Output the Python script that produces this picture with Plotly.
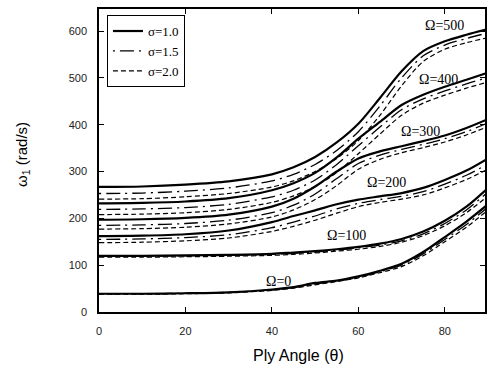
import plotly.graph_objects as go

theta = [0, 10, 20, 30, 40, 45, 50, 55, 60, 65, 70, 75, 80, 85, 90]

# omega_1 (rad/s) for each rotation speed Omega and slenderness sigma
w_O0_s10 = [39, 39, 40, 42, 48, 53, 62, 67, 76, 88, 103, 128, 160, 193, 230]
w_O0_s15 = [39, 39, 40, 42, 47, 52, 60, 66, 74, 86, 100, 124, 155, 187, 224]
w_O0_s20 = [38, 38, 39, 41, 46, 51, 58, 65, 73, 84, 97, 120, 150, 181, 218]

w_O100_s10 = [120, 120, 121, 122, 124, 127, 130, 134, 139, 146, 156, 172, 195, 225, 265]
w_O100_s15 = [119, 119, 120, 121, 123, 125, 128, 132, 137, 143, 152, 167, 189, 218, 256]
w_O100_s20 = [117, 117, 118, 119, 121, 123, 126, 130, 134, 140, 149, 163, 184, 212, 248]

w_O200_s10 = [162, 163, 166, 174, 192, 205, 217, 230, 240, 247, 254, 265, 282, 302, 328]
w_O200_s15 = [155, 156, 159, 165, 180, 192, 205, 220, 232, 240, 247, 257, 273, 292, 316]
w_O200_s20 = [148, 149, 152, 158, 172, 183, 196, 211, 225, 234, 241, 250, 265, 283, 305]

w_O300_s10 = [197, 198, 201, 208, 225, 242, 268, 300, 328, 343, 354, 365, 377, 393, 412]
w_O300_s15 = [185, 186, 189, 196, 212, 228, 252, 285, 317, 335, 347, 358, 370, 385, 404]
w_O300_s20 = [177, 178, 181, 188, 203, 218, 240, 270, 305, 326, 340, 351, 363, 378, 396]

w_O400_s10 = [232, 233, 236, 243, 260, 275, 297, 330, 370, 406, 442, 464, 481, 496, 511]
w_O400_s15 = [219, 220, 223, 230, 246, 260, 282, 315, 355, 395, 432, 455, 472, 487, 501]
w_O400_s20 = [208, 209, 212, 219, 234, 248, 268, 298, 338, 380, 420, 446, 463, 478, 491]

w_O500_s10 = [267, 268, 272, 279, 294, 309, 331, 362, 402, 457, 514, 557, 578, 592, 604]
w_O500_s15 = [253, 254, 258, 265, 280, 294, 315, 345, 385, 440, 500, 547, 570, 584, 596]
w_O500_s20 = [241, 242, 246, 253, 267, 280, 300, 328, 366, 420, 483, 535, 561, 575, 586]

sigma_labels = ["σ=1.0", "σ=1.5", "σ=2.0"]
omega_labels = ["Ω=0", "Ω=100", "Ω=200", "Ω=300", "Ω=400", "Ω=500"]
label_theta = [41.5, 57.3, 66.4, 74.3, 78.5, 79.9]
label_omega = [65, 164, 276, 385, 497, 611]

x_ticks = [0, 20, 40, 60, 80]
y_ticks = [0, 100, 200, 300, 400, 500, 600]

groups = [
    [w_O0_s10, w_O0_s15, w_O0_s20],
    [w_O100_s10, w_O100_s15, w_O100_s20],
    [w_O200_s10, w_O200_s15, w_O200_s20],
    [w_O300_s10, w_O300_s15, w_O300_s20],
    [w_O400_s10, w_O400_s15, w_O400_s20],
    [w_O500_s10, w_O500_s15, w_O500_s20],
]

styles = [
    dict(width=2.2, dash="solid"),
    dict(width=1.3, dash="2px,5px,14px,5px"),
    dict(width=1.2, dash="5px,3px"),
]

fig = go.Figure()
for s in range(3):
    for g, grp in enumerate(groups):
        fig.add_trace(go.Scatter(
            x=theta, y=grp[s], mode="lines",
            line=dict(color="black", shape="spline", smoothing=0.8, **styles[s]),
            name=sigma_labels[s], legendgroup=sigma_labels[s],
            showlegend=(g == 0), hoverinfo="skip",
        ))

for t, w, lab in zip(label_theta, label_omega, omega_labels):
    fig.add_annotation(x=t, y=w, text=lab, showarrow=False,
                       font=dict(family="Liberation Serif", size=14, color="black"))

fig.add_annotation(xref="paper", yref="paper", x=0.518, y=-0.142,
                   xanchor="center", yanchor="middle",
                   text="Ply Angle (θ)", showarrow=False,
                   font=dict(family="Liberation Sans", size=16, color="black"))
fig.add_annotation(xref="paper", yref="paper", x=-0.198, y=0.52,
                   xanchor="center", yanchor="middle",
                   text="ω<sub>1</sub> (rad/s)", showarrow=False, textangle=-90,
                   font=dict(family="Liberation Sans", size=15, color="black"))

axis_common = dict(showgrid=False, zeroline=False, showline=True, linecolor="black",
                   linewidth=1.5, mirror="ticks", ticks="inside", ticklen=5,
                   tickwidth=1, tickcolor="black",
                   tickfont=dict(family="Liberation Sans", size=11, color="#222"))

fig.update_layout(
    width=487, height=370,
    margin=dict(l=99, r=0, t=9, b=58),
    plot_bgcolor="white", paper_bgcolor="white",
    xaxis=dict(range=[0, 89.3], tickvals=x_ticks, ticklabelstandoff=8, **axis_common),
    yaxis=dict(range=[0, 647], tickvals=y_ticks, ticklabelstandoff=8, **axis_common),
    legend=dict(x=0.0206, y=0.98, xanchor="left", yanchor="top",
                bordercolor="black", borderwidth=1, bgcolor="white",
                font=dict(family="Liberation Serif", size=13, color="black"),
                tracegroupgap=0, itemwidth=30),
    showlegend=True,
)

fig.write_html("out.html")
